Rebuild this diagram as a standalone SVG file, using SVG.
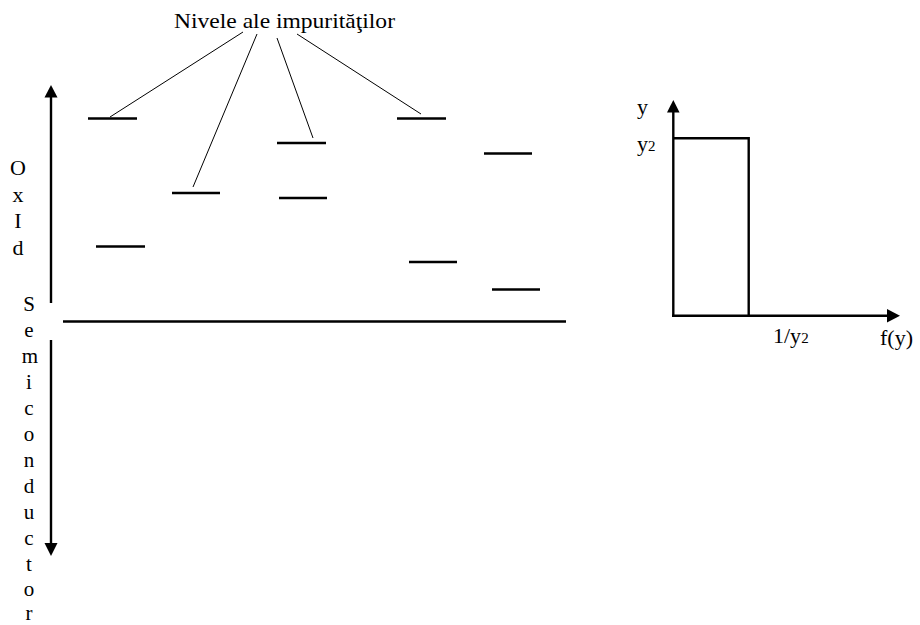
<svg xmlns="http://www.w3.org/2000/svg" width="920" height="625" viewBox="0 0 920 625">
<defs>
<style>
text{font-family:"Liberation Serif","Times New Roman",serif;font-size:22px;fill:#000}
.lvl{stroke:#000;stroke-width:2.6;fill:none}
.lead{stroke:#000;stroke-width:1;fill:none}
.ax{stroke:#000;stroke-width:2.4;fill:none}
.c{text-anchor:middle}
.s{font-size:21px}
</style>
</defs>
<rect width="920" height="625" fill="#fff"/>
<g id="title"><text x="174" y="28" textLength="221" lengthAdjust="spacingAndGlyphs">Nivele ale impurităţilor</text></g>
<g id="connectors">
<line class="lead" x1="243" y1="32" x2="110" y2="117"/>
<line class="lead" x1="257" y1="34" x2="193" y2="187"/>
<line class="lead" x1="277" y1="38" x2="313" y2="138"/>
<line class="lead" x1="297" y1="34" x2="421" y2="114"/>
</g>
<g id="levels">
<line class="lvl" x1="88" y1="118.5" x2="137" y2="118.5"/>
<line class="lvl" x1="172" y1="193" x2="220" y2="193"/>
<line class="lvl" x1="277" y1="143" x2="326" y2="143"/>
<line class="lvl" x1="279" y1="198" x2="327" y2="198"/>
<line class="lvl" x1="397" y1="118.5" x2="446" y2="118.5"/>
<line class="lvl" x1="484" y1="153.5" x2="532" y2="153.5"/>
<line class="lvl" x1="96" y1="246.5" x2="145" y2="246.5"/>
<line class="lvl" x1="409" y1="262" x2="457" y2="262"/>
<line class="lvl" x1="492" y1="289.5" x2="540" y2="289.5"/>
</g>
<g id="main-axes">
<line class="ax" x1="51" y1="303" x2="51" y2="95"/>
<polygon points="51,85 44.5,97.5 57.5,97.5" fill="#000"/>
<line class="ax" x1="51" y1="340" x2="51" y2="545"/>
<polygon points="51,556 44.5,543 57.5,543" fill="#000"/>
<line class="ax" x1="63" y1="321.5" x2="566" y2="321.5"/>
</g>
<g id="label-oxid">
<text class="c" x="18" y="175">O</text>
<text class="c" x="18" y="202">x</text>
<text class="c" x="18" y="228">I</text>
<text class="c" x="18" y="255">d</text>
</g>
<g id="label-semiconductor">
<text class="c s" x="29" y="311">S</text>
<text class="c s" x="29" y="337">e</text>
<text class="c s" x="30" y="363">m</text>
<text class="c s" x="29" y="389">i</text>
<text class="c s" x="29" y="415">c</text>
<text class="c s" x="29" y="441">o</text>
<text class="c s" x="29" y="467">n</text>
<text class="c s" x="29" y="493">d</text>
<text class="c s" x="29" y="519">u</text>
<text class="c s" x="29" y="545">c</text>
<text class="c s" x="29" y="571">t</text>
<text class="c s" x="29" y="596">o</text>
<text class="c s" x="29" y="620">r</text>
</g>
<g id="graph">
<line class="ax" x1="673.3" y1="316" x2="673.3" y2="110"/>
<polygon points="673.3,100 667,112.5 679.6,112.5" fill="#000"/>
<line class="ax" x1="672" y1="315.7" x2="889" y2="315.7"/>
<polygon points="900,315.7 887,309 887,322.4" fill="#000"/>
<polyline class="ax" points="673.3,138.3 748.7,138.3 748.7,315.7"/>
<text x="637" y="114">y</text>
<text x="637" y="151">y<tspan font-size="15">2</tspan></text>
<text x="773" y="343">1/y<tspan font-size="15">2</tspan></text>
<text x="880" y="345">f(y)</text>
</g>
</svg>
